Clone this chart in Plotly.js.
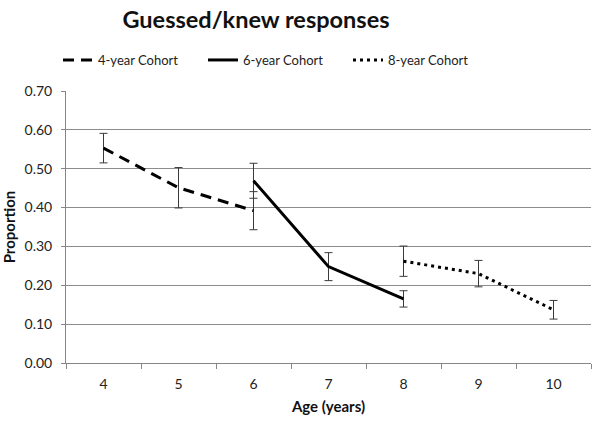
<!DOCTYPE html>
<html>
<head>
<meta charset="utf-8">
<script src="https://cdn.plot.ly/plotly-3.0.1.min.js"></script>
<style>html,body{margin:0;padding:0;background:#fff}#chart{width:600px;height:422px}</style>
</head>
<body>
<div id="chart"></div>
<script>
var ages4 = [4, 5, 6];
var vals4 = [0.553, 0.451, 0.392];
var err4 = [0.038, 0.052, 0.049];

var ages6 = [6, 7, 8];
var vals6 = [0.469, 0.248, 0.165];
var err6 = [0.045, 0.036, 0.021];

var ages8 = [8, 9, 10];
var vals8 = [0.262, 0.230, 0.137];
var err8 = [0.039, 0.034, 0.024];

var xTicks = [4, 5, 6, 7, 8, 9, 10];
var xTickText = ['4', '5', '6', '7', '8', '9', '10'];

var FONT = 'Lato, "Open Sans", sans-serif';
var errStyle = function (arr) {
  return {type: 'data', array: arr, visible: true, color: '#3a3a3a', thickness: 1, width: 4};
};

var traces = [
  {x: ages4, y: vals4, name: '4-year Cohort', mode: 'lines', type: 'scatter',
   line: {color: '#000', width: 3, dash: '11px,7px'}, error_y: errStyle(err4)},
  {x: ages6, y: vals6, name: '6-year Cohort', mode: 'lines', type: 'scatter',
   line: {color: '#000', width: 3}, error_y: errStyle(err6)},
  {x: ages8, y: vals8, name: '8-year Cohort', mode: 'lines', type: 'scatter',
   line: {color: '#000', width: 3, dash: '3px,4px'}, error_y: errStyle(err8)}
];

var layout = {
  width: 600, height: 422,
  margin: {l: 66, r: 9, t: 91, b: 59},
  paper_bgcolor: '#fff', plot_bgcolor: '#fff',
  font: {family: FONT, color: '#222', size: 13},
  title: {text: '<b>Guessed/knew responses</b>', font: {family: FONT, size: 23.5, color: '#111'},
          x: 256 / 600, xref: 'container', xanchor: 'center', y: 1 - 20 / 422, yref: 'container', yanchor: 'middle'},
  showlegend: true,
  legend: {orientation: 'h', xref: 'container', yref: 'container', x: 58 / 600, y: 1 - 60 / 422,
           xanchor: 'left', yanchor: 'middle', font: {family: FONT, size: 13, color: '#222'},
           entrywidth: 100, entrywidthmode: 'pixels', bgcolor: 'rgba(0,0,0,0)'},
  xaxis: {
    range: [3.5, 10.5], tickmode: 'array', tickvals: xTicks, ticktext: xTickText,
    ticks: '', showgrid: false, zeroline: false, showline: true, linecolor: '#868686', linewidth: 1,
    tickfont: {family: FONT, size: 14, color: '#222'}, ticklabelstandoff: 8,
    minor: {tick0: 3.5, dtick: 1, ticks: 'outside', ticklen: 5, tickcolor: '#868686', showgrid: false},
    title: {text: '<b>Age (years)</b>', font: {family: FONT, size: 15, color: '#111'}, standoff: 10}
  },
  yaxis: {
    range: [0, 0.7], tickmode: 'array', tickvals: [0, 0.1, 0.2, 0.3, 0.4, 0.5, 0.6, 0.7],
    ticktext: ['0.00', '0.10', '0.20', '0.30', '0.40', '0.50', '0.60', '0.70'],
    ticks: 'outside', ticklen: 4, tickcolor: '#868686', showgrid: true, gridcolor: '#8c8c8c', gridwidth: 1,
    zeroline: false, showline: true, linecolor: '#868686', linewidth: 1,
    tickfont: {family: FONT, size: 14, color: '#222'}, ticklabelstandoff: 6,
    title: {text: '<b>Proportion</b>', font: {family: FONT, size: 15, color: '#111'}, standoff: 7}
  }
};

Plotly.newPlot('chart', traces, layout, {staticPlot: true, displayModeBar: false});
</script>
</body>
</html>
